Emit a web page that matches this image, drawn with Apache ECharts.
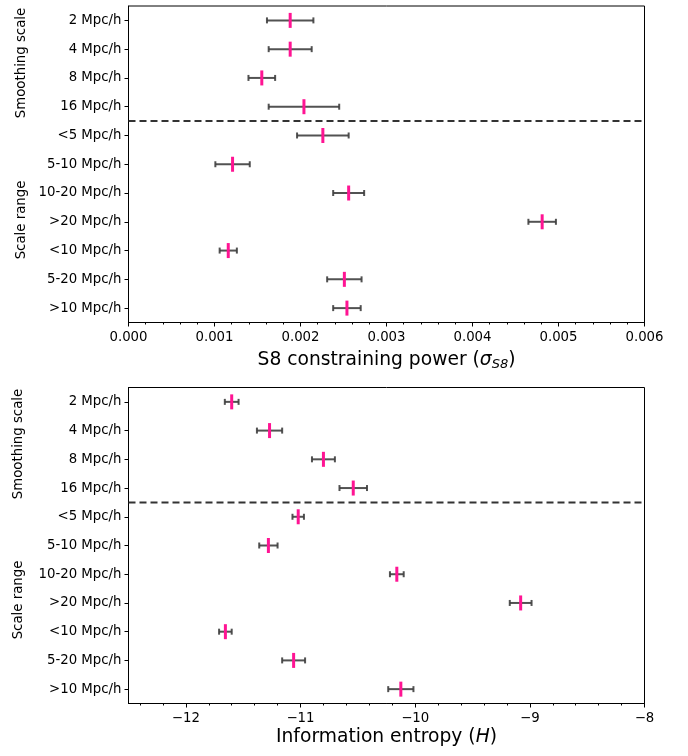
<!DOCTYPE html>
<html>
<head>
<meta charset="utf-8">
<script src="https://cdn.jsdelivr.net/npm/echarts@6/dist/echarts.min.js"></script>
<style>
  html, body { margin: 0; padding: 0; background: #fff; }
  #chart { width: 688px; height: 756px; }
</style>
</head>
<body>
<div id="chart"></div>
<script>
// 行标签（从上到下）
var categories = ['2 Mpc/h', '4 Mpc/h', '8 Mpc/h', '16 Mpc/h', '<5 Mpc/h', '5-10 Mpc/h',
  '10-20 Mpc/h', '>20 Mpc/h', '<10 Mpc/h', '5-20 Mpc/h', '>10 Mpc/h'];

// 上图：S8 constraining power，中心值与误差半宽
var s8Center = [0.00188, 0.00188, 0.00155, 0.00204, 0.00226, 0.00121, 0.00256, 0.00481, 0.00116, 0.00251, 0.00254];
var s8Err = [0.00027, 0.00025, 0.000155, 0.00041, 0.0003, 0.0002, 0.00018, 0.00016, 0.0001, 0.0002, 0.00016];

// 下图：Information entropy
var entCenter = [-11.60, -11.27, -10.80, -10.54, -11.02, -11.28, -10.16, -9.08, -11.655, -11.06, -10.125];
var entErr = [0.06, 0.11, 0.10, 0.12, 0.05, 0.08, 0.06, 0.095, 0.055, 0.10, 0.11];

// 下图刻度
var entMajorTicks = [-12, -11, -10, -9, -8];
var entMinorTicks = [-12.4, -12.2, -11.8, -11.6, -11.4, -11.2, -10.8, -10.6, -10.4, -10.2,
  -9.8, -9.6, -9.4, -9.2, -8.8, -8.6, -8.4, -8.2];

var sepAfter = 3; // 虚线位于 16 Mpc/h 与 <5 Mpc/h 之间

var FONT = 'DejaVu Sans';
var FS = 13.3;   // 刻度字号
var NAME_FS = 18.7;
var PINK = '#ff1493';
var BAR = '#3f3f3f';

function buildData(center, err) {
  return center.map(function (c, i) {
    return [c, c - err[i], c + err[i], i];
  });
}

function renderErr(params, api) {
  var idx = api.value(3);
  var lo = api.coord([api.value(1), idx]);
  var hi = api.coord([api.value(2), idx]);
  var c = api.coord([api.value(0), idx]);
  var y = c[1];
  var lineStyle = { stroke: BAR, lineWidth: 2, opacity: 0.9 };
  return {
    type: 'group',
    children: [
      { type: 'line', shape: { x1: lo[0], y1: y, x2: hi[0], y2: y }, style: lineStyle },
      { type: 'line', shape: { x1: lo[0], y1: y - 3, x2: lo[0], y2: y + 3 }, style: lineStyle },
      { type: 'line', shape: { x1: hi[0], y1: y - 3, x2: hi[0], y2: y + 3 }, style: lineStyle },
      { type: 'line', shape: { x1: c[0], y1: y - 7.5, x2: c[0], y2: y + 7.5 },
        style: { stroke: PINK, lineWidth: 3 } }
    ]
  };
}

function renderSep(params, api) {
  var cs = params.coordSys;
  var a = api.coord([0, sepAfter])[1];
  var b = api.coord([0, sepAfter + 1])[1];
  var y = (a + b) / 2;
  return {
    type: 'line',
    shape: { x1: cs.x, y1: y, x2: cs.x + cs.width, y2: y },
    style: { stroke: '#333', lineWidth: 2, lineDash: [7, 4] }
  };
}

function yAxisFor(gi) {
  return {
    gridIndex: gi,
    type: 'category',
    data: categories,
    inverse: true,
    axisLine: { show: true, lineStyle: { color: '#000', width: 1 } },
    axisTick: { show: true, alignWithLabel: true, length: 4, lineStyle: { color: '#000' } },
    axisLabel: { color: '#000', fontFamily: FONT, fontSize: FS, margin: 7 },
    splitLine: { show: false }
  };
}

function groupLabel(x, y, text) {
  return {
    type: 'text', x: x, y: y, rotation: Math.PI / 2,
    style: { text: text, font: FS + 'px "DejaVu Sans"', fill: '#000', align: 'center', verticalAlign: 'middle' }
  };
}

var option = {
  animation: false,
  backgroundColor: '#fff',
  grid: [
    { left: 128.5, top: 6, width: 516, height: 316.5, show: true, borderColor: '#000', borderWidth: 1 },
    { left: 128.5, top: 387.5, width: 516, height: 316, show: true, borderColor: '#000', borderWidth: 1 }
  ],
  xAxis: [
    {
      gridIndex: 0,
      type: 'value',
      min: 0,
      max: 0.006,
      interval: 0.001,
      name: '{n|S8 constraining power (}{i|σ}{s|S8}{n|)}',
      nameLocation: 'middle',
      nameGap: 27,
      nameTextStyle: {
        rich: {
          n: { fontFamily: FONT, fontSize: NAME_FS, color: '#000' },
          i: { fontFamily: FONT, fontSize: NAME_FS, fontStyle: 'italic', color: '#000' },
          s: { fontFamily: FONT, fontSize: 13, fontStyle: 'italic', color: '#000', padding: [9, 0, 0, 0] }
        }
      },
      axisLine: { show: true, onZero: false, lineStyle: { color: '#000' } },
      axisTick: { show: true, length: 4, lineStyle: { color: '#000' } },
      minorTick: { show: true, splitNumber: 5, length: 2, lineStyle: { color: '#000' } },
      axisLabel: {
        color: '#000', fontFamily: FONT, fontSize: FS, margin: 9,
        formatter: function (v) { return v.toFixed(3); }
      },
      splitLine: { show: false }
    },
    {
      gridIndex: 1,
      type: 'value',
      min: -12.5,
      max: -8,
      position: 'bottom',
      name: '{n|Information entropy (}{i|H}{n|)}',
      nameLocation: 'middle',
      nameGap: 24,
      nameTextStyle: {
        rich: {
          n: { fontFamily: FONT, fontSize: NAME_FS, color: '#000' },
          i: { fontFamily: FONT, fontSize: NAME_FS, fontStyle: 'italic', color: '#000' }
        }
      },
      axisLine: { show: true, onZero: false, lineStyle: { color: '#000' } },
      axisTick: { show: true, length: 4, customValues: entMajorTicks, lineStyle: { color: '#000' } },
      axisLabel: {
        color: '#000', fontFamily: FONT, fontSize: FS, margin: 9,
        customValues: entMajorTicks,
        formatter: function (v) { return '\u2212' + Math.abs(v); }
      },
      splitLine: { show: false }
    },
    // 下图次刻度
    {
      gridIndex: 1,
      type: 'value',
      min: -12.5,
      max: -8,
      position: 'bottom',
      axisLine: { show: false, onZero: false },
      axisTick: { show: true, length: 2, customValues: entMinorTicks, lineStyle: { color: '#000' } },
      axisLabel: { show: false },
      splitLine: { show: false }
    }
  ],
  yAxis: [yAxisFor(0), yAxisFor(1)],
  graphic: [
    groupLabel(22, 63, 'Smoothing scale'),
    groupLabel(22, 220, 'Scale range'),
    groupLabel(19, 444, 'Smoothing scale'),
    groupLabel(19, 600, 'Scale range')
  ],
  series: [
    { type: 'custom', xAxisIndex: 0, yAxisIndex: 0, renderItem: renderSep, data: [[0, 0]], silent: true },
    { type: 'custom', xAxisIndex: 0, yAxisIndex: 0, renderItem: renderErr,
      encode: { x: [0, 1, 2], y: 3 }, data: buildData(s8Center, s8Err) },
    { type: 'custom', xAxisIndex: 1, yAxisIndex: 1, renderItem: renderSep, data: [[-10, 0]], silent: true },
    { type: 'custom', xAxisIndex: 1, yAxisIndex: 1, renderItem: renderErr,
      encode: { x: [0, 1, 2], y: 3 }, data: buildData(entCenter, entErr) }
  ]
};

var myChart = echarts.init(document.getElementById('chart'));
myChart.setOption(option);
</script>
</body>
</html>
